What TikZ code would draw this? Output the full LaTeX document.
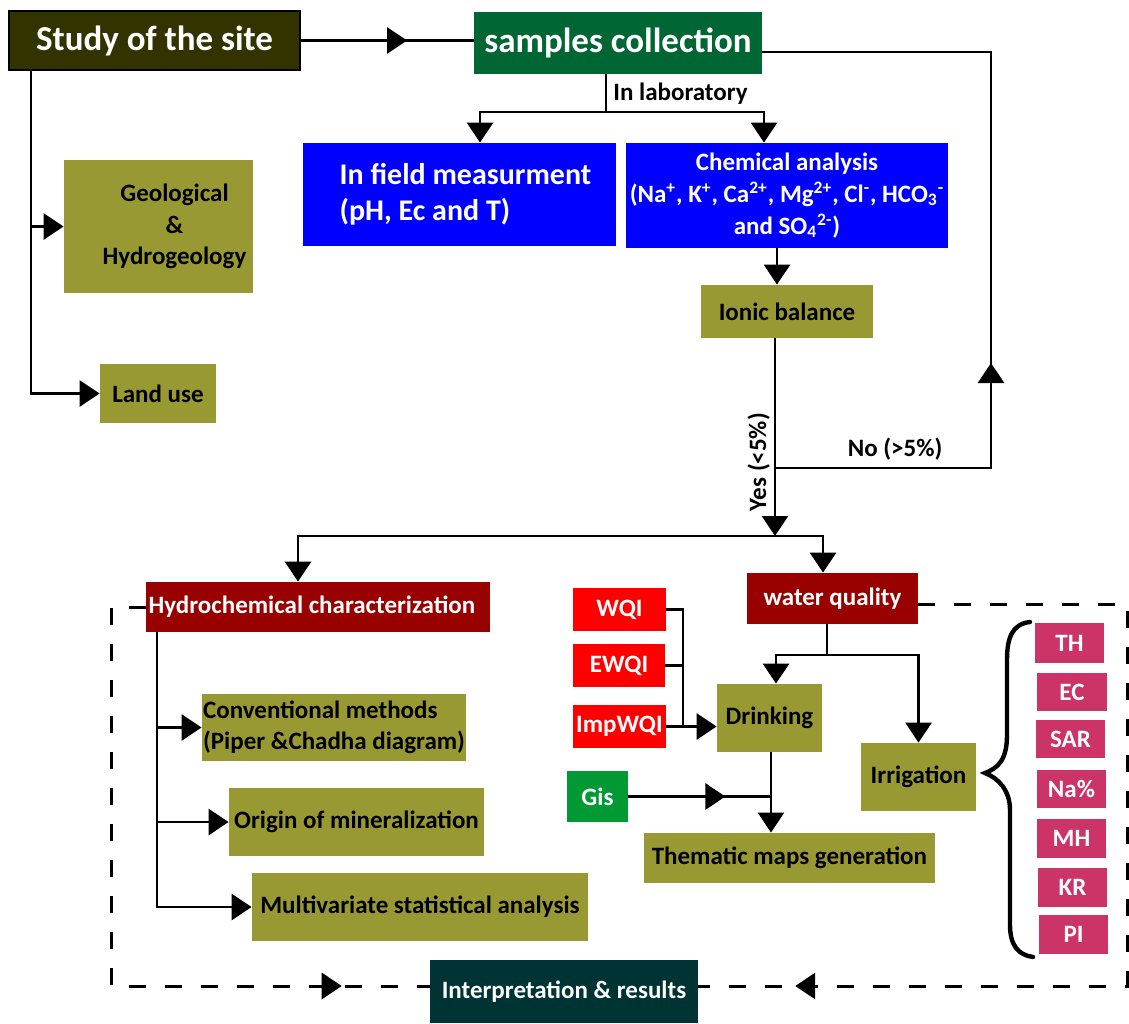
\documentclass[tikz,border=0pt]{standalone}
\usepackage{fontspec}
\setmainfont{Carlito}
\usetikzlibrary{arrows.meta,decorations.markings,calc}

\definecolor{sitec}{RGB}{51,51,0}
\definecolor{sampc}{RGB}{0,102,51}
\definecolor{bluec}{RGB}{0,0,255}
\definecolor{olivec}{RGB}{153,153,51}
\definecolor{darkredc}{RGB}{153,0,0}
\definecolor{redc}{RGB}{255,0,0}
\definecolor{gisc}{RGB}{0,153,51}
\definecolor{pinkc}{RGB}{204,51,102}
\definecolor{interc}{RGB}{0,51,51}

\newcommand\fs[2]{\fontsize{#1pt}{#2pt}\selectfont\bfseries}
% box from its corners: name, x1, y1, x2, y2, style, text
\newcommand\mkbox[7]{\node[inner sep=1.5pt, #6, minimum width={(#4-#2)*0.5pt}, minimum height={(#5-#3)*0.5pt}] (#1) at ({(#2+#4)/2},{(#3+#5)/2}) {#7};}

\tikzset{
  olv/.style={fill=olivec, text=black, font=\fs{12.5}{15.5}},
  blu/.style={fill=bluec, text=white},
  dred/.style={fill=darkredc, text=white, font=\fs{12.5}{15.5}},
  rd/.style={fill=redc, text=white, font=\fs{12.5}{15.5}},
  pk/.style={fill=pinkc, text=white, font=\fs{12.5}{14}},
  ln/.style={line width=1.4pt},
  thinln/.style={line width=1.1pt},
  arr/.style={-{Triangle[length=10pt,width=13pt]}},
  midtip/.style={postaction={decorate}, decoration={markings,
      mark=at position #1 with {\arrow{Triangle[length=10pt,width=13pt]}}}},
  dsh/.style={line width=1.5pt, dash pattern=on 8.5pt off 9.5pt},
  lbl/.style={font=\fs{12.5}{15}, text=black},
}

\begin{document}
\begin{tikzpicture}[x=0.5pt,y=-0.5pt]
\useasboundingbox (0,0) rectangle (1129,1023);

% ---- top row
\mkbox{study}{9}{11}{300}{70}{fill=sitec, draw=black, line width=0.8pt, text=white, font=\fs{17.5}{21}}{Study of the site}
\mkbox{samples}{474}{12}{762}{74}{fill=sampc, text=white, font=\fs{17.5}{21}}{samples collection}

\mkbox{field}{303}{143}{616}{246}{blu, align=left, font=\fs{15}{18}}{\hspace*{6pt}In field measurment\\\hspace*{6pt}(pH, Ec and T)}
\mkbox{chem}{626}{143}{948}{248}{blu, align=center, font=\fs{12.5}{16}}{Chemical analysis\\(Na\textsuperscript{+}, K\textsuperscript{+}, Ca\textsuperscript{2+}, Mg\textsuperscript{2+}, Cl\textsuperscript{-}, HCO\textsubscript{3}\textsuperscript{-}\\and SO\textsubscript{4}\textsuperscript{2-})}
\mkbox{ionic}{701}{285}{873}{338}{olv}{Ionic balance}

\mkbox{geo}{64}{160}{253}{293}{olv, align=center, font=\fs{12.5}{15.75}}{\hspace*{16pt}Geological\\\hspace*{16pt}\&\\\hspace*{16pt}Hydrogeology}
\mkbox{land}{100}{364}{216}{423}{olv}{Land use}

% ---- lower part
\mkbox{hydro}{146}{582}{490}{632}{dred, inner sep=1pt}{Hydrochemical characterization\hspace*{6pt}}
\mkbox{water}{747}{573}{918}{624}{dred}{water quality}

\mkbox{conv}{202}{694}{466}{761}{olv, align=left, inner sep=0.5pt}{Conventional methods\\(Piper \&Chadha diagram)}
\mkbox{origin}{229}{788}{484}{856}{olv}{Origin of mineralization}
\mkbox{multi}{252}{873}{588}{941}{olv}{Multivariate statistical analysis}

\mkbox{wqi}{573}{588}{666}{631}{rd}{WQI}
\mkbox{ewqi}{573}{644}{665}{687}{rd}{EWQI}
\mkbox{imp}{573}{705}{666}{748}{rd}{ImpWQI}
\mkbox{gis}{567}{771}{628}{822}{fill=gisc, text=white, font=\fs{12.5}{15}}{Gis}

\mkbox{drink}{717}{684}{822}{752}{olv}{Drinking}
\mkbox{irr}{861}{743}{976}{811}{olv}{Irrigation}
\mkbox{them}{644}{833}{935}{883}{olv}{Thematic maps generation}

\mkbox{th}{1035}{623}{1104}{663}{pk}{TH}
\mkbox{ec}{1037}{673}{1107}{711}{pk}{EC}
\mkbox{sar}{1036}{720}{1105}{758}{pk}{SAR}
\mkbox{na}{1037}{770}{1106}{808}{pk}{Na\%}
\mkbox{mh}{1037}{819}{1106}{858}{pk}{MH}
\mkbox{kr}{1038}{868}{1107}{907}{pk}{KR}
\mkbox{pi}{1039}{915}{1108}{954}{pk}{PI}

\mkbox{interp}{430}{960}{698}{1023}{fill=interc, text=white, font=\fs{12.5}{15}}{Interpretation \& results}

% ---- connectors, upper part
\draw[ln, midtip=0.615] (study.east) -- (study.east -| samples.west);

\coordinate (lab) at (606,112);
\coordinate (fx) at (480,0);
\coordinate (cx) at (764,0);
\draw[ln] (samples.south -| lab) -- node[lbl, anchor=west, inner sep=3pt] {In laboratory} (lab);
\draw[ln, arr] (lab) -| (fx |- field.north);
\draw[ln, arr] (lab) -| (cx |- chem.north);

\coordinate (ix) at (777,0);
\draw[ln, arr] (ix |- chem.south) -- (ix |- ionic.north);

\coordinate (yes) at (775,536);
\draw[thinln, arr] (yes |- ionic.south) -- node[lbl, pos=0.626, rotate=90, anchor=south, inner sep=2pt] {Yes (<5\%)} (yes);

\coordinate (no) at (775,468);
\coordinate (nr) at (991,468);
\coordinate (nt) at (991,52);
\draw[ln, midtip=0.373] (no) -- node[lbl, pos=0.556, above, inner sep=3pt] {No (>5\%)} (nr) -- (nt) -- (samples.east |- nt);

\coordinate (hx) at (298,0);
\coordinate (wx) at (823,0);
\draw[ln, arr] (yes) -| (hx |- hydro.north);
\draw[ln, arr] (yes) -| (wx |- water.north);

\coordinate (sx) at (31,0);
\draw[ln, arr] (sx |- study.south) |- (geo.west);
\draw[ln, arr] (sx |- study.south) |- (land.west);

% ---- hydrochemical branch
\coordinate (hv) at (157,0);
\draw[ln, arr] (hv |- hydro.south) |- (conv.west);
\draw[ln, arr] (hv |- hydro.south) |- (origin.west);
\draw[ln, arr] (hv |- hydro.south) |- (multi.west);

% ---- water quality branch
\coordinate (qv) at (683,0);
\draw[ln] (wqi.east) -| (qv |- imp.east);
\draw[ln] (ewqi.east) -- (qv |- ewqi.east);
\draw[ln, arr] (imp.east) -- (drink.west |- imp.east);

\coordinate (wq) at (827,655);
\coordinate (dx) at (776,0);
\draw[ln] (water.south -| wq) -- (wq);
\draw[ln, arr] (wq) -| (dx |- drink.north);
\draw[ln, arr] (wq) -| (irr.north);

\coordinate (tx) at (771,0);
\draw[thinln, arr] (tx |- drink.south) -- (tx |- them.north);
\draw[ln, midtip=0.68] (gis.east) -- (tx |- gis.east);

% ---- brace over the irrigation indices
\draw[line width=2.2pt, line cap=round] (1030,622)
  .. controls (1012,624) and (1007,638) .. (1007,660) -- (1007,735)
  .. controls (1007,760) and (998,768) .. (985,773)
  .. controls (998,778) and (1010,790) .. (1010,810) -- (1010,925)
  .. controls (1010,945) and (1018,955) .. (1033,957);

% ---- dashed frame leading to the results
\coordinate (dl) at (111,986);
\draw[dsh, midtip=0.88] (hydro.west) -- (hydro.west -| dl) -- (dl) -- (interp.west |- dl);
\coordinate (tr) at (1127,604);
\coordinate (br) at (1127,986);
\draw[dsh, midtip=0.905] (water.east |- tr) -- (tr) -- (br) -- (interp.east |- br);

\end{tikzpicture}
\end{document}
